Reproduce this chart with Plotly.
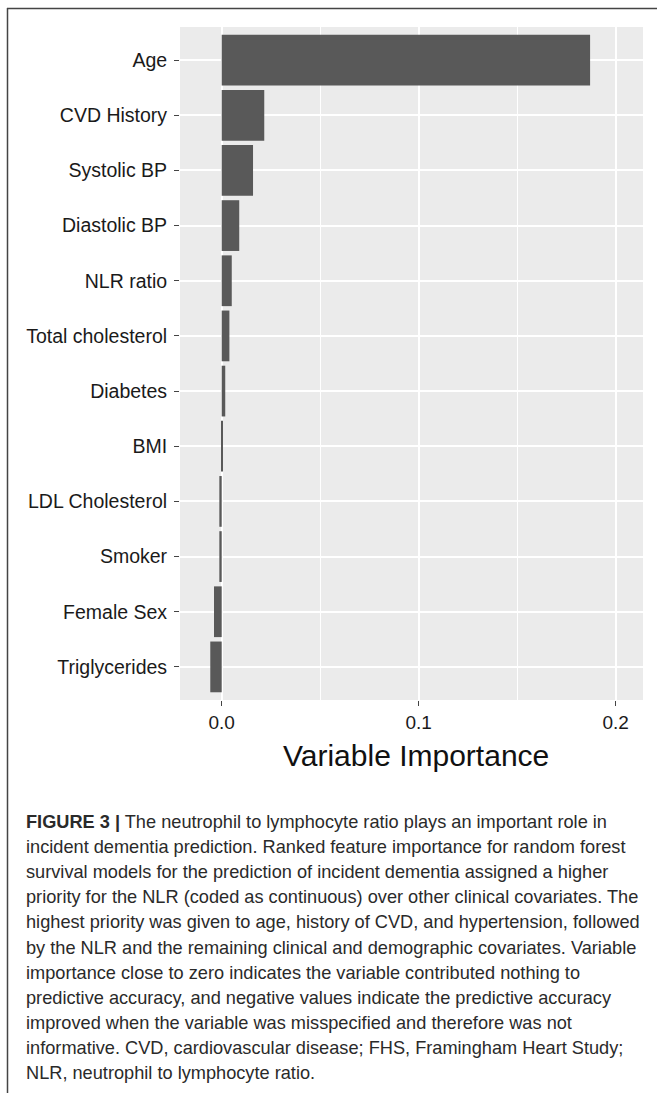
import plotly.graph_objects as go

# ---- data ----
variables = ["Age", "CVD History", "Systolic BP", "Diastolic BP", "NLR ratio",
             "Total cholesterol", "Diabetes", "BMI", "LDL Cholesterol", "Smoker",
             "Female Sex", "Triglycerides"]
importance = [0.187, 0.0216, 0.0159, 0.0089, 0.0051, 0.0039, 0.0018, 0.0003,
              -0.0012, -0.0012, -0.0039, -0.0058]
x_ticks = [0.0, 0.1, 0.2]
x_tick_labels = ["0.0", "0.1", "0.2"]
x_title = "Variable Importance"
caption_lines = [
    "<b>FIGURE 3 |</b> The neutrophil to lymphocyte ratio plays an important role in",
    "incident dementia prediction. Ranked feature importance for random forest",
    "survival models for the prediction of incident dementia assigned a higher",
    "priority for the NLR (coded as continuous) over other clinical covariates. The",
    "highest priority was given to age, history of CVD, and hypertension, followed",
    "by the NLR and the remaining clinical and demographic covariates. Variable",
    "importance close to zero indicates the variable contributed nothing to",
    "predictive accuracy, and negative values indicate the predictive accuracy",
    "improved when the variable was misspecified and therefore was not",
    "informative. CVD, cardiovascular disease; FHS, Framingham Heart Study;",
    "NLR, neutrophil to lymphocyte ratio.",
]

# ---- layout geometry (pixels) ----
W, H = 657, 1093
PL, PR, PT, PB = 180, 643, 27, 700
pw, ph = PR - PL, PB - PT


def px_x(px):
    return (px - PL) / pw


def px_y(py):
    return (PB - py) / ph


FONT = "Liberation Sans, Arial, Helvetica, sans-serif"

fig = go.Figure()
fig.add_trace(go.Bar(
    x=importance, y=variables, orientation="h",
    marker=dict(color="#595959", line=dict(width=0)),
    width=0.92, hoverinfo="skip",
))

fig.update_layout(
    width=W, height=H,
    margin=dict(l=PL, r=W - PR, t=PT, b=H - PB, autoexpand=False),
    paper_bgcolor="white", plot_bgcolor="#EBEBEB",
    showlegend=False,
    font=dict(family=FONT, color="#1a1a1a"),
    xaxis=dict(
        range=[-0.02117, 0.21386], tickvals=x_ticks, ticktext=x_tick_labels,
        showgrid=True, gridcolor="white", gridwidth=1.6, zeroline=False,
        ticks="outside", ticklen=5, tickwidth=1.2, tickcolor="#444",
        tickfont=dict(size=19, color="#1a1a1a", family=FONT),
        minor=dict(dtick=0.05, tick0=0, showgrid=True, gridcolor="white",
                   gridwidth=0.8, ticks=""),
        showline=False, fixedrange=True,
    ),
    yaxis=dict(
        categoryorder="array", categoryarray=variables,
        range=[11.6, -0.6],
        showgrid=True, gridcolor="white", gridwidth=1.6, zeroline=False,
        ticks="outside", ticklen=5, tickwidth=1.2, tickcolor="#444",
        tickfont=dict(size=19.5, color="#1a1a1a", family=FONT),
        ticklabelstandoff=3,
        showline=False, fixedrange=True,
    ),
    bargap=0.08,
)

annotations = [dict(
    text=x_title, xref="paper", yref="paper",
    x=px_x(415.5), y=px_y(755), xanchor="center", yanchor="middle",
    showarrow=False, font=dict(size=30, color="#111", family=FONT),
)]
for i, line in enumerate(caption_lines):
    annotations.append(dict(
        text=line, xref="paper", yref="paper",
        x=px_x(24), y=px_y(822 + 25.1 * i), xanchor="left", yanchor="middle",
        showarrow=False, font=dict(size=18.2, color="#2a2a2a", family=FONT),
    ))
fig.update_layout(annotations=annotations)

frame = dict(color="#444", width=1.5)
fig.update_layout(shapes=[
    dict(type="line", xref="paper", yref="paper",
         x0=px_x(7), x1=px_x(660), y0=px_y(8.5), y1=px_y(8.5), line=frame),
    dict(type="line", xref="paper", yref="paper",
         x0=px_x(7.5), x1=px_x(7.5), y0=px_y(8), y1=px_y(1100), line=frame),
])

fig.write_html(
    "out.html",
    config={"displayModeBar": False},
    post_script="document.body.style.margin='0px';document.body.style.padding='0px';",
)
